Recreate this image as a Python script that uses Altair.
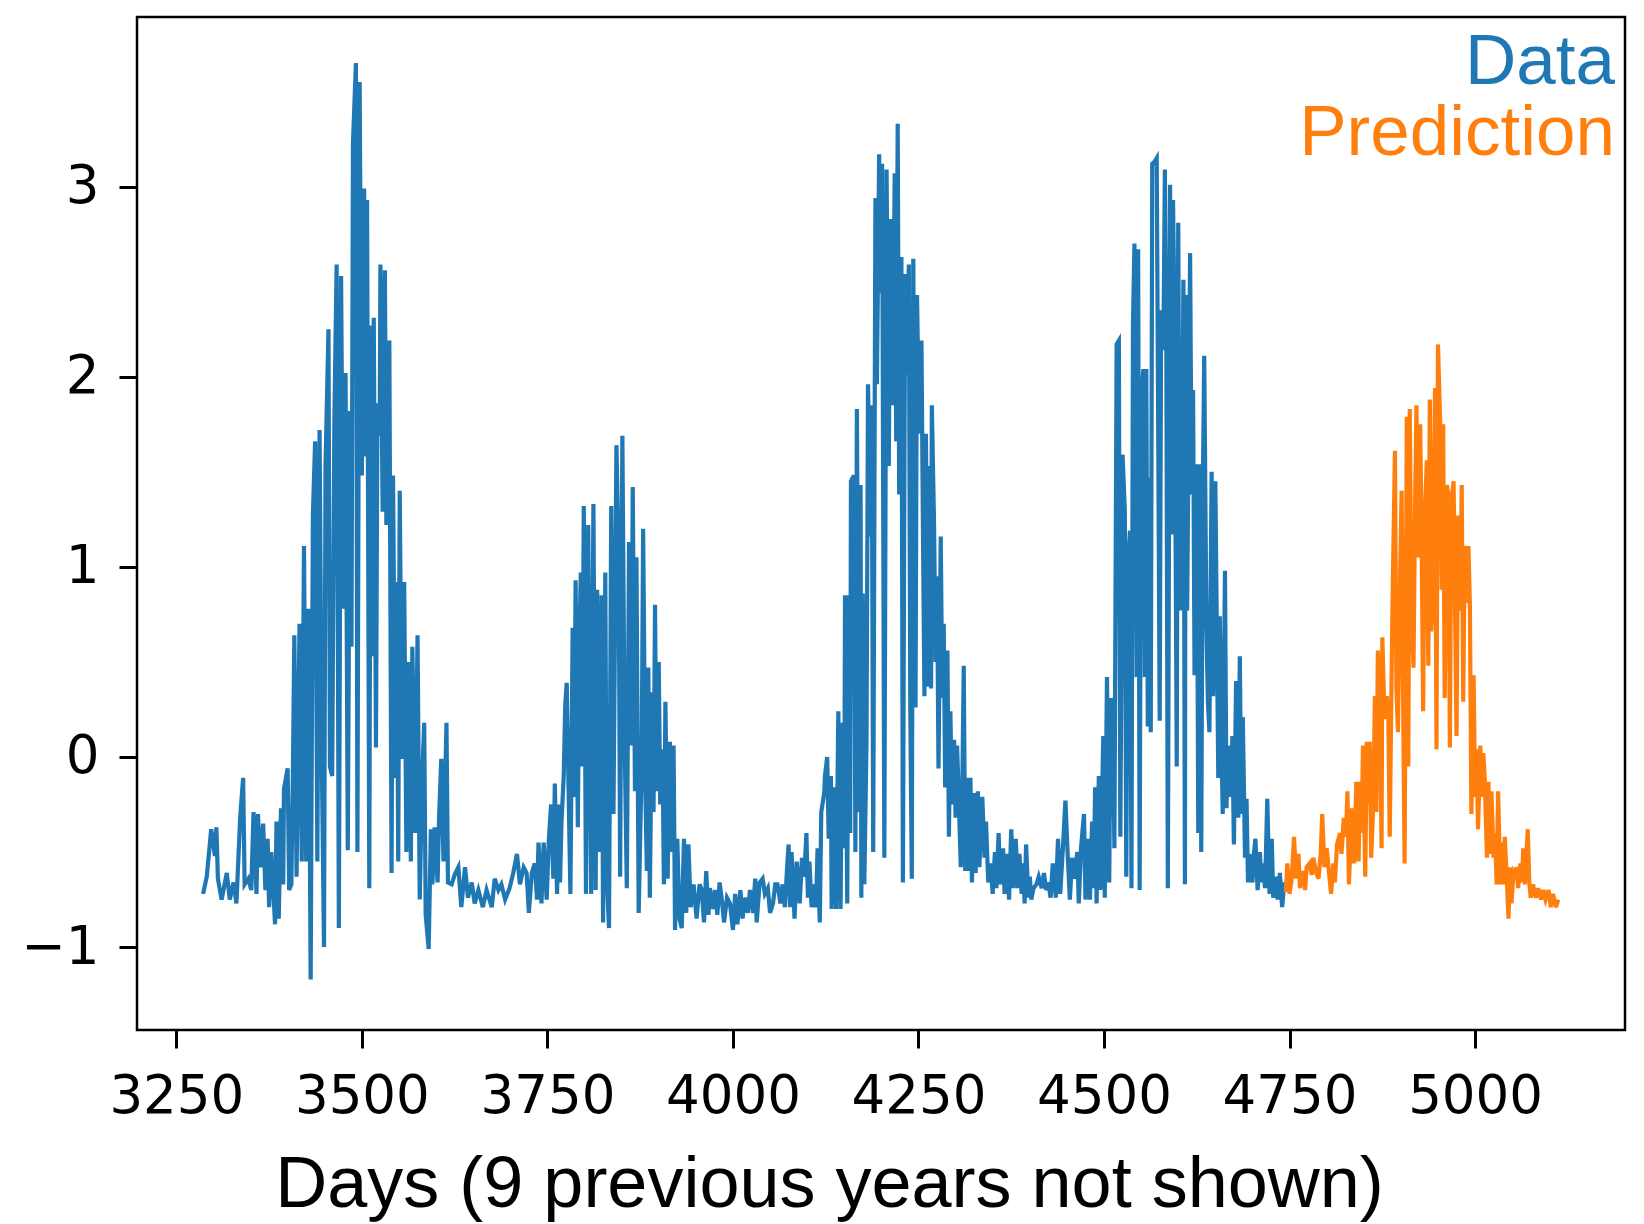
import altair as alt
import pandas as pd

# ---- Observed series (blue) ----
blue_days = [
    3286, 3291, 3297, 3302, 3304, 3306, 3311, 3318, 3322, 3327, 3331, 3336, 3340, 3342, 3347, 3351,
    3354, 3358, 3360, 3363, 3367, 3370, 3373, 3375, 3378, 3383, 3385, 3388, 3391, 3394, 3395, 3400,
    3402, 3405, 3407, 3409, 3412, 3416, 3419, 3422, 3425, 3428, 3431, 3434, 3437, 3440, 3443, 3446,
    3449, 3451, 3455, 3457, 3460, 3463, 3466, 3469, 3472, 3475, 3478, 3481, 3484, 3486, 3488,
    3492, 3494, 3497, 3500, 3503, 3506, 3507, 3510, 3512, 3515, 3516, 3519, 3521, 3524, 3525, 3528,
    3531, 3533, 3537, 3540, 3542, 3545, 3547, 3549, 3551, 3554, 3557, 3560, 3563, 3566, 3568, 3572,
    3575, 3578, 3581, 3584, 3586, 3590, 3593, 3595, 3598, 3602, 3604, 3607, 3610, 3614, 3616, 3621,
    3625, 3630, 3634, 3639, 3643, 3648, 3652, 3657, 3663, 3668, 3675, 3679, 3684, 3688, 3693, 3699,
    3704, 3709, 3713, 3718, 3722, 3725, 3729, 3733, 3736, 3738, 3742, 3745, 3749, 3752, 3755, 3758,
    3760, 3763, 3765, 3767, 3769, 3772, 3774, 3776, 3778, 3781, 3784, 3786, 3788, 3791, 3793, 3795,
    3797, 3799, 3802, 3805, 3809, 3812, 3815, 3817, 3820, 3823, 3825, 3828, 3830, 3833, 3836, 3839,
    3843, 3846, 3848, 3851, 3854, 3857, 3860, 3863, 3865, 3868, 3870, 3873, 3877, 3879, 3882, 3884,
    3886, 3888, 3891, 3893, 3895, 3897, 3900, 3902, 3905, 3907,
    3909, 3912, 3915, 3918, 3920, 3922, 3925, 3928, 3931, 3934, 3937, 3940, 3943, 3947, 3951, 3955,
    3958, 3961, 3964, 3967, 3969, 3973, 3976, 3979, 3982, 3985, 3988, 3992, 3996, 4000, 4003, 4006,
    4010, 4013, 4016, 4020, 4023, 4027, 4030, 4032, 4036, 4040, 4043, 4047, 4050, 4054, 4057, 4060,
    4064, 4067, 4070, 4073, 4075, 4077, 4079, 4083, 4086, 4090, 4093, 4096, 4099, 4101, 4103, 4106,
    4109, 4112, 4114, 4117,
    4119, 4123, 4124, 4127, 4129, 4132, 4133, 4136, 4139, 4142, 4145, 4147, 4150, 4151, 4154, 4156,
    4158, 4159, 4163, 4165, 4167, 4170, 4172, 4173, 4175, 4177, 4180, 4182, 4185, 4187, 4189, 4192,
    4194, 4197, 4199, 4201, 4204, 4207, 4210, 4212, 4215, 4218, 4220, 4222, 4224, 4227, 4229, 4232,
    4234, 4237, 4239, 4241, 4243, 4246, 4248, 4251, 4254, 4256, 4258, 4260, 4263, 4265, 4267, 4268,
    4271, 4273, 4275, 4277, 4280, 4282, 4284, 4286, 4289, 4291, 4293, 4295, 4298, 4300, 4302, 4304,
    4307, 4309, 4311, 4313, 4316, 4318, 4320, 4322, 4325,
    4327, 4330, 4332, 4336, 4339, 4341, 4344, 4347, 4350, 4353, 4355, 4358, 4360, 4364, 4366, 4370,
    4372, 4375, 4378, 4381, 4384, 4386, 4389, 4391, 4393, 4395, 4398, 4400, 4402, 4405, 4409, 4412,
    4416, 4419, 4422, 4425, 4428, 4431, 4435, 4438, 4441, 4445, 4448, 4451, 4454, 4457, 4460, 4464,
    4466, 4469, 4473, 4475, 4478, 4481, 4484, 4486, 4488, 4490, 4493, 4495, 4499, 4501, 4504, 4507,
    4509, 4512, 4514, 4517, 4520, 4522, 4525, 4528, 4530,
    4532, 4535, 4537, 4539, 4541, 4544, 4546, 4548, 4550, 4553, 4555, 4557, 4559, 4562, 4563, 4565,
    4568, 4571, 4573, 4575, 4577, 4580, 4582, 4584, 4586, 4589, 4591, 4593, 4595, 4598, 4600, 4602,
    4604, 4607, 4609, 4610, 4612, 4616, 4618, 4620, 4622, 4625, 4627, 4629, 4631, 4633, 4635, 4638,
    4640, 4642, 4645, 4647, 4650, 4654, 4656, 4658, 4660, 4663, 4665, 4667, 4671, 4673, 4675, 4678,
    4681, 4683, 4685, 4687, 4690, 4692, 4694, 4696, 4700, 4702, 4704, 4707, 4710, 4712, 4714, 4717,
    4720, 4723, 4726, 4728, 4731, 4734, 4737, 4740, 4743, 4745,
]
blue_vals = [
    -0.72, -0.63, -0.38, -0.52, -0.37, -0.64, -0.75, -0.61, -0.75, -0.66, -0.77, -0.32, -0.11, -0.67, -0.64, -0.70,
    -0.29, -0.72, -0.30, -0.58, -0.35, -0.70, -0.43, -0.79, -0.50, -0.88, -0.34, -0.85, -0.27, -0.67, -0.17, -0.06,
    -0.70, -0.67, -0.10, 0.64, -0.63, 0.70, -0.55, 1.11, -0.55, 0.78, -1.17, 1.27, 1.66, -0.55, 1.72, 0.00,
    -1.00, 1.53, 2.25, -0.05, -0.10, 1.79, 2.59, -0.90, 2.53, 0.78, 2.02, -0.49, 1.82, 0.58, 3.23,
    3.65, -0.50, 3.55, 1.48, 2.99, 1.58, 2.93, -0.69, 2.27, 0.53, 2.31, 0.05, 1.86, 1.69, 2.59, 1.29,
    2.56, 1.22, 2.19, -0.61, 1.48, -0.11, 0.92, -0.55, 1.40, -0.01, 0.92, -0.50, 0.50, -0.55, 0.58, -0.40,
    0.64, -0.75, -0.14, 0.18, -0.83, -1.01, -0.38, -0.67, -0.37, -0.66, -0.32, -0.01, -0.55, 0.18, -0.66, -0.67,
    -0.62, -0.58, -0.79, -0.58, -0.74, -0.66, -0.77, -0.70, -0.79, -0.70, -0.79, -0.64, -0.70, -0.67, -0.75, -0.69,
    -0.61, -0.51, -0.67, -0.58, -0.61, -0.82, -0.61, -0.56, -0.75, -0.45, -0.77, -0.45, -0.75, -0.43, -0.25, -0.64,
    -0.14, -0.72, -0.25, -0.66, -0.34, -0.10, 0.27, 0.39, -0.05, -0.72, 0.68, -0.21, 0.93, -0.37, 0.58, 0.97,
    -0.05, 1.32, -0.72, 1.22, -0.72, 1.33, -0.70, 0.88, -0.50, 0.85, -0.87, 0.97, -0.63, -0.90, 1.32, -0.30,
    1.64, 1.06, -0.63, 1.69, 0.11, -0.69, 1.13, 0.06, 1.42, -0.18, 1.05, -0.82, -0.03, 1.20, -0.18, -0.60,
    0.47, -0.74, 0.34, -0.29, 0.80, -0.18, 0.50, -0.25, 0.04, -0.67,
    0.29, -0.64, 0.08, -0.50, 0.06, -0.91, -0.43, -0.85, -0.90, -0.43, -0.82, -0.46, -0.79, -0.67, -0.85, -0.67,
    -0.70, -0.87, -0.60, -0.83, -0.69, -0.80, -0.70, -0.83, -0.66, -0.75, -0.87, -0.74, -0.77, -0.91, -0.72, -0.88,
    -0.70, -0.85, -0.74, -0.82, -0.70, -0.82, -0.64, -0.87, -0.66, -0.64, -0.72, -0.69, -0.82, -0.77, -0.67, -0.67,
    -0.77, -0.67, -0.79, -0.58, -0.46, -0.79, -0.50, -0.85, -0.55, -0.77, -0.53, -0.63, -0.40, -0.74, -0.55, -0.79,
    -0.67, -0.79, -0.48, -0.87,
    -0.29, -0.19, -0.10, 0.00, -0.43, -0.10, -0.80, -0.16, -0.80, 0.24, -0.80, 0.18, -0.48, 0.85, -0.77, 0.85,
    -0.40, 1.45, 1.48, -0.50, 1.83, -0.29, 1.43, -0.74, 0.86, -0.67, 0.08, 1.96, 1.16, 1.85, -0.50, 2.94,
    1.96, 3.17, 2.44, 3.12, -0.53, 3.09, 1.53, 2.83, 1.85, 3.07, 1.66, 3.33, 1.38, 2.63, -0.66, 2.54,
    2.01, 2.59, 0.24, -0.64, 2.62, 0.26, 2.43, 1.70, 2.19, 1.21, 0.32, 1.70, 0.37, 1.53, 0.36, 1.85,
    1.22, 0.50, 0.95, -0.06, 1.16, 0.31, 0.70, -0.16, 0.56, -0.42, 0.24, -0.25, 0.09, -0.32, 0.06, -0.18,
    -0.58, -0.18, 0.48, -0.60, -0.11, -0.60, -0.11, -0.66, -0.19,
    -0.61, -0.18, -0.58, -0.21, -0.53, -0.34, -0.66, -0.56, -0.72, -0.50, -0.69, -0.40, -0.67, -0.48, -0.72, -0.51,
    -0.75, -0.38, -0.69, -0.43, -0.69, -0.51, -0.72, -0.56, -0.77, -0.46, -0.74, -0.63, -0.75, -0.69, -0.67, -0.63,
    -0.69, -0.61, -0.70, -0.66, -0.74, -0.56, -0.74, -0.43, -0.72, -0.45, -0.23, -0.51, -0.75, -0.53, -0.64, -0.50,
    -0.77, -0.48, -0.30, -0.75, -0.43, -0.75, -0.34, -0.69, -0.16, -0.77, -0.10, -0.70, 0.11, -0.74, 0.42, -0.66,
    0.31, 0.19, -0.48, 2.17, 2.19, -0.42, 1.59, 1.30, -0.63,
    1.01, 1.19, -0.69, 2.27, 2.70, 0.42, 2.67, -0.70, 1.88, 2.04, 0.42, 2.04, 0.16, 1.47, 0.13, 3.12,
    3.13, 3.15, 1.75, 0.19, 2.35, 2.14, 3.09, 2.14, -0.69, 3.01, 1.17, 2.93, 2.29, -0.05, 2.81, 1.14,
    0.77, 2.51, -0.67, 2.43, 0.77, 2.65, 1.38, 1.93, 0.43, 1.54, -0.40, 1.54, -0.50, 1.33, 2.11, 0.68,
    0.29, 0.13, 1.50, 0.32, 1.45, -0.11, 0.74, 0.11, -0.30, 0.98, -0.27, 0.06, -0.21, 0.11, -0.46, 0.40,
    -0.32, 0.53, -0.30, 0.21, -0.53, -0.22, -0.66, -0.51, -0.66, -0.51, -0.43, -0.70, -0.50, -0.66, -0.56, -0.69,
    -0.22, -0.72, -0.43, -0.74, -0.63, -0.75, -0.61, -0.79, -0.66, -0.71,
]

# ---- Prediction series (orange) ----
pred_days = [
    4745, 4747, 4750, 4753, 4756, 4759, 4762, 4764, 4768, 4771, 4773, 4777, 4780, 4782, 4786, 4789,
    4792, 4794, 4797, 4800, 4803, 4806, 4809, 4811, 4814, 4818, 4820, 4823, 4826, 4828, 4830, 4834,
    4837, 4840, 4843, 4845, 4847, 4849, 4852, 4854, 4856, 4858, 4860, 4863, 4865, 4867, 4869, 4872,
    4874, 4875, 4878, 4881, 4883, 4885, 4887, 4889, 4892, 4894, 4896, 4899, 4901, 4903, 4905, 4908,
    4910, 4912, 4914, 4917, 4919, 4921, 4923, 4926, 4928, 4930, 4932, 4935, 4937, 4939, 4941, 4943,
    4946, 4948, 4950, 4953, 4955, 4957, 4959, 4962, 4964, 4966, 4968, 4971, 4973, 4975, 4977, 4980,
    4982, 4984, 4986, 4989, 4991, 4993, 4995, 4998, 5000, 5002, 5004, 5007, 5009, 5011, 5013, 5016,
    5018, 5020, 5022, 5025, 5027, 5029, 5031, 5034, 5036, 5038, 5040, 5043, 5045, 5047, 5049, 5052,
    5054, 5056, 5058, 5061, 5063, 5065, 5067, 5071, 5073, 5075, 5078, 5082, 5085, 5089, 5092, 5095,
    5099, 5102, 5105, 5109, 5112,
]
pred_vals = [
    -0.71, -0.56, -0.72, -0.64, -0.42, -0.64, -0.51, -0.69, -0.60, -0.70, -0.58, -0.56, -0.62, -0.53, -0.61, -0.64,
    -0.51, -0.30, -0.58, -0.48, -0.60, -0.72, -0.56, -0.66, -0.46, -0.40, -0.51, -0.32, -0.42, -0.18, -0.67, -0.27,
    -0.56, -0.13, -0.55, -0.13, -0.40, 0.06, -0.63, 0.08, -0.25, 0.08, -0.53, -0.23, 0.32, -0.29, 0.56, 0.19,
    -0.48, 0.63, 0.20, 0.32, 0.24, -0.42, 0.27, 0.87, 1.61, 0.37, 0.13, 0.95, 1.40, 0.32, -0.56, 1.79,
    -0.05, 1.83, 0.87, 0.47, 1.27, 1.85, 1.05, 1.75, 1.14, 0.24, 1.24, 1.56, 0.48, 1.88, 0.66, 0.85,
    1.94, 0.04, 2.17, 1.75, 0.88, 1.75, 0.31, 1.43, 1.38, 0.05, 1.33, 1.45, 0.77, 0.11, 1.27, 0.77,
    1.43, 0.29, 1.11, 0.81, 1.11, 0.80, -0.30, 0.43, -0.21, 0.04, -0.38, 0.06, -0.21, 0.02, -0.11, -0.53,
    -0.13, -0.51, -0.18, -0.53, -0.40, -0.67, -0.18, -0.67, -0.45, -0.67, -0.42, -0.66, -0.85, -0.58, -0.77, -0.60,
    -0.61, -0.58, -0.69, -0.56, -0.66, -0.48, -0.67, -0.38, -0.66, -0.74, -0.67, -0.74, -0.69, -0.75, -0.70, -0.75,
    -0.70, -0.79, -0.72, -0.79, -0.75,
]

series_names = ["Data", "Prediction"]
series_colors = ["#1f77b4", "#ff7f0e"]
x_ticks = [3250, 3500, 3750, 4000, 4250, 4500, 4750, 5000]
y_ticks = [-1, 0, 1, 2, 3]
x_title = "Days (9 previous years not shown)"

df = pd.DataFrame({
    "day": blue_days + pred_days,
    "value": blue_vals + pred_vals,
    "series": [series_names[0]] * len(blue_days) + [series_names[1]] * len(pred_days),
})
legend_df = pd.DataFrame({"series": series_names})

W, H = 1488, 1013
color_scale = alt.Scale(domain=series_names, range=series_colors)

lines = alt.Chart(df).mark_line(strokeWidth=4.2).encode(
    x=alt.X(
        "day:Q",
        scale=alt.Scale(domain=[3197, 5202], nice=False, zero=False),
        axis=alt.Axis(
            values=x_ticks, format="d", title=x_title, grid=False, domain=False,
            tickSize=18, tickWidth=3, tickColor="black",
            labelFont="DejaVu Sans", labelFontSize=53, labelColor="black",
            labelBaseline="alphabetic", labelPadding=64, labelFlush=False, labelOverlap=False,
            titleFont="Liberation Sans", titleFontSize=72, titleFontWeight="normal",
            titleColor="black", titleX=692, titleY=176, titleAlign="center",
            titleBaseline="alphabetic",
        ),
    ),
    y=alt.Y(
        "value:Q",
        scale=alt.Scale(domain=[-1.436, 3.892], nice=False, zero=False),
        axis=alt.Axis(
            values=y_ticks, title=None, grid=False, domain=False,
            tickSize=18, tickWidth=3, tickColor="black",
            labelFont="DejaVu Sans", labelFontSize=53, labelColor="black",
            labelBaseline="middle", labelPadding=20, labelFlush=False, labelOverlap=False,
            labelExpr="datum.value < 0 ? '\u2212' + abs(datum.value) : datum.label",
        ),
    ),
    color=alt.Color("series:N", scale=color_scale, legend=None),
)

data_text = alt.Chart(legend_df).transform_filter(
    alt.datum.series == series_names[0]
).mark_text(align="right", baseline="alphabetic", font="Liberation Sans", fontSize=71).encode(
    text="series:N",
    color=alt.Color("series:N", scale=color_scale, legend=None),
    x=alt.value(1478),
    y=alt.value(67),
)

pred_text = alt.Chart(legend_df).transform_filter(
    alt.datum.series == series_names[1]
).mark_text(align="right", baseline="alphabetic", font="Liberation Sans", fontSize=71).encode(
    text="series:N",
    color=alt.Color("series:N", scale=color_scale, legend=None),
    x=alt.value(1478),
    y=alt.value(138),
)

chart = alt.layer(lines, data_text, pred_text).properties(
    width=W, height=H,
    autosize=alt.AutoSizeParams(type="none"),
    padding={"left": 137, "top": 17, "right": 19, "bottom": 194},
    background="white",
).configure_view(stroke="black", strokeWidth=2.5)

chart.save("out.html", embed_options={"renderer": "svg", "actions": False})
